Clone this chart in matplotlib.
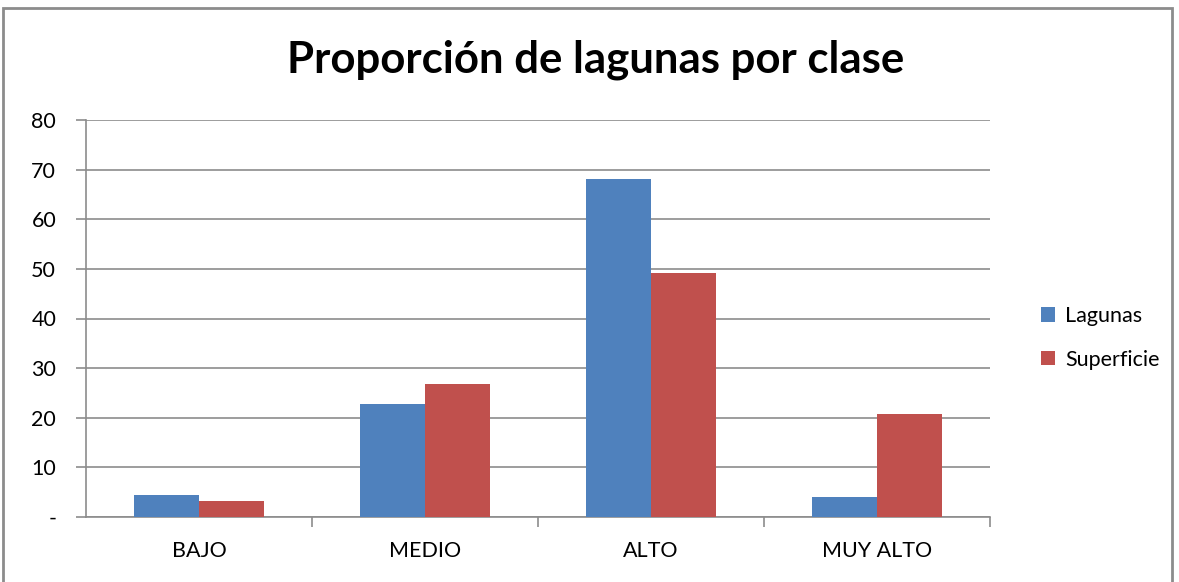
import matplotlib
matplotlib.use("Agg")
import matplotlib.pyplot as plt
import numpy as np
from matplotlib.patches import Rectangle

categories = ["BAJO", "MEDIO", "ALTO", "MUY ALTO"]
lagunas = [4.4, 22.8, 68.2, 4.0]
superficie = [3.2, 26.8, 49.1, 20.8]
yticks = [0, 10, 20, 30, 40, 50, 60, 70, 80]
ytick_labels = ["-", "10", "20", "30", "40", "50", "60", "70", "80"]

plt.rcParams['font.family'] = ['Lato', 'DejaVu Sans']

W, H = 1179, 582
fig = plt.figure(figsize=(W/100, H/100), dpi=100)
fig.patch.set_facecolor("white")

# outer chart frame
fig.add_artist(Rectangle((3/W, -0.05), (1172-3)/W, 1.05 - 8/H, transform=fig.transFigure,
                         fill=False, edgecolor="#8c8c8c", linewidth=2))

ax = fig.add_axes([86/W, 1 - 517/H, (990-86)/W, (517-120)/H])
x = np.arange(len(categories))
bw = 0.2875
ax.bar(x - bw/2, lagunas, bw, color="#4F81BD", label="Lagunas", zorder=3)
ax.bar(x + bw/2, superficie, bw, color="#C0504D", label="Superficie", zorder=3)

fs = 15.5
ax.set_xlim(-0.5, len(categories) - 0.5)
ax.set_ylim(0, 80)
ax.set_yticks(yticks)
ax.set_yticklabels(ytick_labels, fontsize=fs)
ax.set_xticks(x)
ax.set_xticklabels(categories, fontsize=fs)
ax.set_xticks(np.arange(0.5, len(categories) - 0.5 + 1e-9, 1.0), minor=True)
ax.tick_params(axis='x', which='major', length=0, pad=17)
ax.tick_params(axis='x', which='minor', length=7.5, color="#8c8c8c", width=1.2)
ax.tick_params(axis='y', length=7.5, color="#8c8c8c", width=1.2, pad=14)
ax.yaxis.grid(True, color="#8c8c8c", linewidth=1.2, zorder=0)
for s in ["top", "right"]:
    ax.spines[s].set_visible(False)
for s in ["left", "bottom"]:
    ax.spines[s].set_color("#8c8c8c")
    ax.spines[s].set_linewidth(1.2)
ax.set_axisbelow(True)

fig.text(596/W, 1 - 60/H, "Proporción de lagunas por clase", ha="center", va="center",
         fontsize=31.5, fontweight="bold")

leg = fig.legend(loc="center left", bbox_to_anchor=(1022/W, 1 - 338/H), frameon=False,
                 fontsize=fs, handlelength=0.65, handleheight=0.65, labelspacing=1.1,
                 handletextpad=0.45)

fig.savefig("out.png", dpi=100)
